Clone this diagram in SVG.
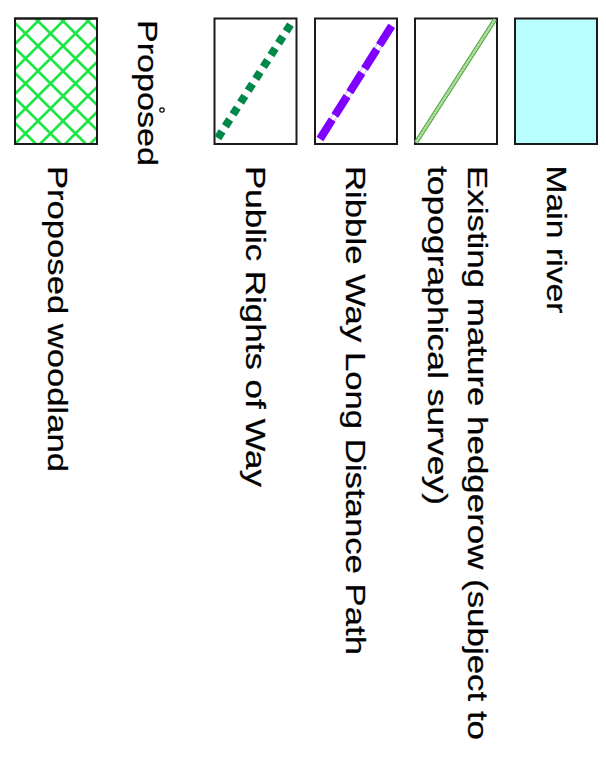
<svg xmlns="http://www.w3.org/2000/svg" width="606" height="763" viewBox="0 0 606 763">
<defs>
<style>
.box{stroke:#1a1a1a;stroke-width:2;fill:#fff}
.lbl{font-family:"Liberation Sans",Arial,Helvetica,sans-serif;font-size:28.5px;fill:#000;stroke:#000;stroke-width:0.25}
</style>
<pattern id="hatch" patternUnits="userSpaceOnUse" x="13" y="21" width="25" height="25">
<path d="M-2,-2 L27,27 M-2,27 L27,-2" stroke="#1fe647" stroke-width="2.7" fill="none"/>
</pattern>
</defs>
<rect width="606" height="763" fill="#fff"/>

<g id="main-river">
<rect class="box" x="515" y="18.5" width="82" height="125.5" style="fill:#b9fefe"/>
<text class="lbl" transform="translate(546.5,165.5) rotate(90)" textLength="148" lengthAdjust="spacingAndGlyphs">Main river</text>
</g>

<g id="hedgerow">
<rect class="box" x="415" y="18.5" width="82" height="125.5"/>
<line x1="416" y1="142.5" x2="495" y2="19.5" stroke="#5aa847" stroke-width="4.4"/>
<line x1="416" y1="142.5" x2="495" y2="19.5" stroke="#c3e9b6" stroke-width="2.2"/>
<line x1="416" y1="142.5" x2="495" y2="19.5" stroke="#7cc46a" stroke-width="1" stroke-dasharray="1.5 1.5"/>
<text class="lbl" transform="translate(467.5,166) rotate(90)" textLength="574" lengthAdjust="spacingAndGlyphs">Existing mature hedgerow (subject to</text>
<text class="lbl" transform="translate(427.5,166) rotate(90)" textLength="339" lengthAdjust="spacingAndGlyphs">topographical survey)</text>
</g>

<g id="ribble-way">
<rect class="box" x="315" y="18.5" width="82" height="125.5"/>
<line x1="320" y1="139" x2="391.7" y2="25.7" stroke="#d6bff8" stroke-width="6"/>
<line x1="320" y1="139" x2="391.7" y2="25.7" stroke="#fff" stroke-width="3.6"/>
<line x1="320" y1="139" x2="391.7" y2="25.7" stroke="#7f00ff" stroke-width="8" stroke-dasharray="22.8 5"/>
<text class="lbl" transform="translate(345.5,166) rotate(90)" textLength="489" lengthAdjust="spacingAndGlyphs">Ribble Way Long Distance Path</text>
</g>

<g id="public-rights">
<rect class="box" x="214.5" y="18.5" width="82" height="125.5"/>
<line x1="217.8" y1="138.1" x2="290.5" y2="24.6" stroke="#00884a" stroke-width="8" stroke-dasharray="8 6.08"/>
<text class="lbl" transform="translate(245.5,166) rotate(90)" textLength="321" lengthAdjust="spacingAndGlyphs">Public Rights of Way</text>
</g>

<g id="proposed-heading">
<text class="lbl" transform="translate(137.5,20) rotate(90)" textLength="146" lengthAdjust="spacingAndGlyphs">Proposed</text>
<circle cx="162" cy="110" r="2.2" fill="none" stroke="#000" stroke-width="1.2"/>
</g>

<g id="proposed-woodland">
<rect class="box" x="15" y="18.5" width="82" height="125.5" style="fill:url(#hatch)"/>
<rect x="15" y="18.5" width="82" height="125.5" fill="none" stroke="#1a1a1a" stroke-width="2"/>
<text class="lbl" transform="translate(47.5,166) rotate(90)" textLength="306" lengthAdjust="spacingAndGlyphs">Proposed woodland</text>
</g>

<g id="connectors"></g>
</svg>
